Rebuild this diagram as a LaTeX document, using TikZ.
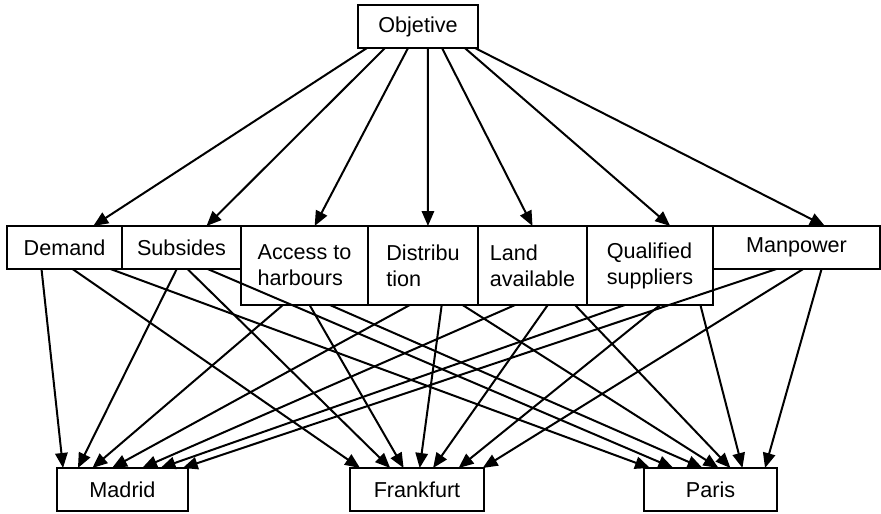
\documentclass[tikz,border=0pt]{standalone}
\usepackage{fontspec}
\setmainfont{Liberation Sans}
\usepackage{tikz}
\usetikzlibrary{positioning,calc,arrows.meta}

\tikzset{
  box/.style={draw, line width=1pt, inner sep=2pt, outer sep=0pt,
    minimum height=21.5pt, align=left,
    font=\fontsize{10.8}{13}\selectfont},
  tallbox/.style={box, minimum height=39.5pt},
  arr/.style={-{Triangle[length=7.5pt,width=6.2pt]}, line width=1pt}
}

\begin{document}
\begin{tikzpicture}[x=0.5pt,y=-0.5pt]
\useasboundingbox (0,0) rectangle (881,513);
% goal
\node[box, minimum width=60pt, anchor=north west] (obj) at (358,5) {Objetive};
% criteria
\node[box, minimum width=57.5pt, anchor=north west] (dem) at (7,226) {Demand};
\node[box, minimum width=59.5pt, right=0pt of dem.north east, anchor=north west] (sub) {Subsides};
\node[tallbox, minimum width=63.5pt, right=0pt of sub.north east, anchor=north west] (acc) {Access to\\harbours};
\node[tallbox, minimum width=55pt, right=0pt of acc.north east, anchor=north west] (dis) {Distribu\\tion};
\node[tallbox, minimum width=54.5pt, right=0pt of dis.north east, anchor=north west] (lan) {Land\\available};
\node[tallbox, minimum width=63pt, right=0pt of lan.north east, anchor=north west] (qua) {Qualified\\suppliers};
\node[box, minimum width=83.5pt, right=0pt of qua.north east, anchor=north west] (man) {Manpower};
% alternatives
\node[box, minimum width=65.5pt, anchor=north west] (mad) at (57,468) {Madrid};
\node[box, minimum width=67pt, anchor=north west] (fra) at (350,468) {Frankfurt};
\node[box, minimum width=66.5pt, anchor=north west] (par) at (644,468) {Paris};

% goal to criteria
\foreach \crit/\from/\to in {dem/.075/.75, sub/.225/.71, acc/.417/.58, dis/.583/.545,
    lan/.70/.50, qua/.89/.66, man/.975/.67}
  \draw[arr] ($(obj.south west)!\from!(obj.south east)$) -- ($(\crit.north west)!\to!(\crit.north east)$);

% criteria to alternatives
\foreach \crit/\alt/\from/\to in {
    dem/mad/.30/.046, dem/fra/.57/.075, dem/par/.90/.045,
    sub/mad/.46/.16, sub/fra/.55/.30, sub/par/.72/.22,
    acc/mad/.33/.27, acc/fra/.54/.40, acc/par/.70/.44,
    dis/mad/.38/.42, dis/fra/.67/.52, dis/par/.86/.56,
    lan/mad/.34/.65, lan/fra/.64/.62, lan/par/.89/.65,
    qua/mad/.30/.79, qua/fra/.58/.81, qua/par/.90/.74,
    man/mad/.38/.96, man/fra/.54/.99, man/par/.65/.91}
  \draw[arr] ($(\crit.south west)!\from!(\crit.south east)$) -- ($(\alt.north west)!\to!(\alt.north east)$);
\end{tikzpicture}
\end{document}
